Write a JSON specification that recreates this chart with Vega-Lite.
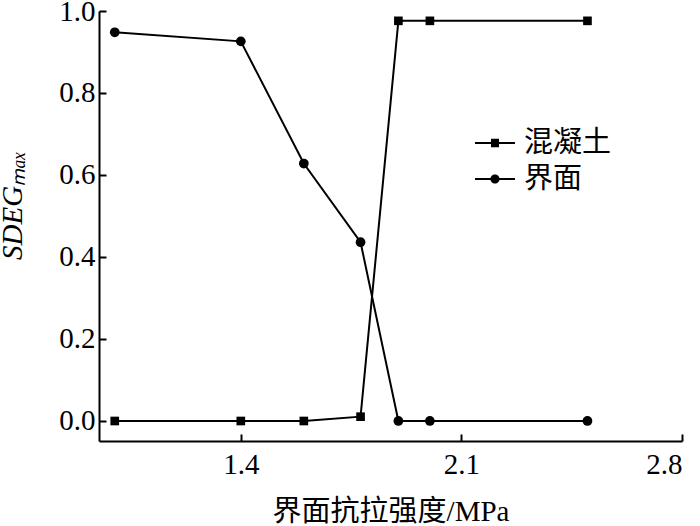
{
  "$schema": "https://vega.github.io/schema/vega-lite/v6.json",
  "autosize": {"type": "none"},
  "width": 583,
  "height": 430,
  "padding": {"left": 99, "top": 11, "right": 18, "bottom": 85},
  "background": "white",
  "config": {
    "view": {"stroke": null},
    "font": "Liberation Serif, Noto Sans CJK SC",
    "axis": {
      "domainColor": "black",
      "domainWidth": 2,
      "tickColor": "black",
      "tickWidth": 2,
      "tickSize": -7,
      "grid": false,
      "labelFont": "Liberation Serif",
      "labelFontSize": 29,
      "labelColor": "black",
      "titleColor": "black",
      "titleFontWeight": "normal"
    }
  },
  "data": {
    "values": [
      {"x": 1.0, "y": 0.0, "s": "混凝土"},
      {"x": 1.4, "y": 0.0, "s": "混凝土"},
      {"x": 1.6, "y": 0.0, "s": "混凝土"},
      {"x": 1.78, "y": 0.0105, "s": "混凝土"},
      {"x": 1.9, "y": 0.976, "s": "混凝土"},
      {"x": 2.0, "y": 0.976, "s": "混凝土"},
      {"x": 2.5, "y": 0.976, "s": "混凝土"},
      {"x": 1.0, "y": 0.948, "s": "界面"},
      {"x": 1.4, "y": 0.926, "s": "界面"},
      {"x": 1.6, "y": 0.628, "s": "界面"},
      {"x": 1.78, "y": 0.436, "s": "界面"},
      {"x": 1.9, "y": 0.0, "s": "界面"},
      {"x": 2.0, "y": 0.0, "s": "界面"},
      {"x": 2.5, "y": 0.0, "s": "界面"}
    ]
  },
  "encoding": {
    "x": {
      "field": "x", "type": "quantitative",
      "scale": {"domain": [0.95, 2.8], "nice": false, "zero": false},
      "axis": {
        "values": [1.4, 2.1, 2.8],
        "format": ".1f",
        "title": "界面抗拉强度/MPa",
        "titleFont": "Liberation Serif, Noto Sans CJK SC",
        "titleFontSize": 29,
        "labelPadding": 16,
        "titlePadding": 18
      }
    },
    "y": {
      "field": "y", "type": "quantitative",
      "scale": {"domain": [-0.0488, 1.0], "nice": false, "zero": false},
      "axis": {
        "values": [0.0, 0.2, 0.4, 0.6, 0.8, 1.0],
        "format": ".1f",
        "title": "SDEGₘₐₓ",
        "titleFont": "Liberation Serif",
        "titleFontStyle": "italic",
        "titleFontSize": 29,
        "labelPadding": 11,
        "titleY": 194,
        "titleX": -72
      }
    }
  },
  "resolve": {"scale": {"shape": "independent"}, "legend": {"shape": "independent"}},
  "layer": [
    {
      "mark": {"type": "line", "color": "black", "strokeWidth": 2},
      "encoding": {"detail": {"field": "s"}}
    },
    {
      "mark": {"type": "point", "filled": true, "color": "black", "opacity": 1},
      "encoding": {
        "shape": {
          "field": "s", "type": "nominal",
          "scale": {"domain": ["混凝土", "界面"], "range": ["square", "circle"]},
          "legend": null
        },
        "size": {"condition": {"test": "datum.s === '混凝土'", "value": 75}, "value": 95}
      }
    },
    {
      "mark": {"type": "point", "filled": true, "color": "black", "opacity": 0},
      "encoding": {
        "shape": {
          "field": "s", "type": "nominal",
          "scale": {"domain": ["混凝土", "界面"], "range": ["M-1,-0.05H-0.2V-0.21H0.2V-0.05H1V0.05H0.2V0.21H-0.2V0.05H-1Z", "M-1,-0.05H1V0.05H-1Z M-0.23,0A0.23,0.23 0 1,1 0.23,0A0.23,0.23 0 1,1 -0.23,0Z"]},
          "legend": {
            "title": null,
            "orient": "none",
            "legendX": 376,
            "legendY": 112,
            "padding": 0,
            "symbolSize": 1600,
            "symbolFillColor": "black",
            "symbolStrokeWidth": 0,
            "symbolOpacity": 1,
            "labelFont": "Liberation Serif, Noto Sans CJK SC",
            "labelFontSize": 29,
            "labelColor": "black",
            "labelOffset": 9,
            "rowPadding": 1,
            "encode": {
              "symbols": {
                "update": {
                  "fill": {"value": "black"},
                  "opacity": {"value": 1},
                  "fillOpacity": {"value": 1}
                }
              }
            }
          }
        }
      }
    }
  ]
}
